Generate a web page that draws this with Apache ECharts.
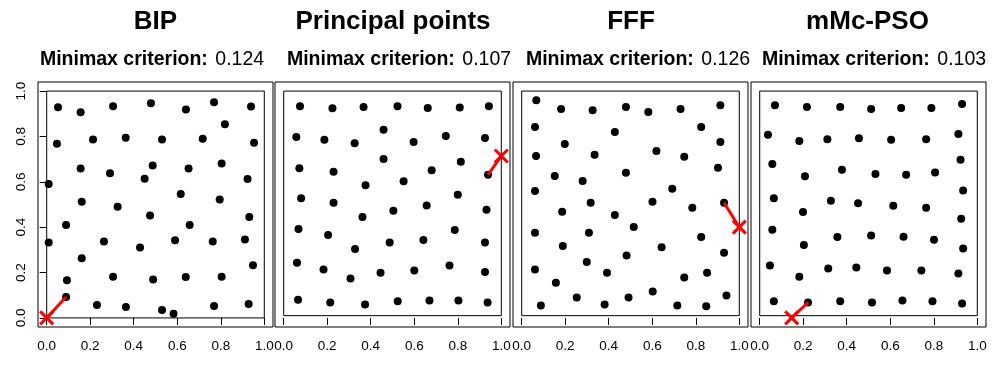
<!DOCTYPE html>
<html>
<head>
<meta charset="utf-8">
<script src="https://cdn.jsdelivr.net/npm/echarts@6/dist/echarts.min.js"></script>
<style>
html,body{margin:0;padding:0;background:#fff;}
#chart{width:1001px;height:367px;}
</style>
</head>
<body>
<div id="chart"></div>
<script>
// ---------- data ----------
const titles = ['BIP', 'Principal points', 'FFF', 'mMc-PSO'];
const criterionLabel = 'Minimax criterion:';
const criteria = ['0.124', '0.107', '0.126', '0.103'];
const tickValues = [0, 0.2, 0.4, 0.6, 0.8, 1.0];
const tickLabels = ['0.0', '0.2', '0.4', '0.6', '0.8', '1.0'];

const bipX = [0.052,0.156,0.305,0.479,0.640,0.769,0.939,0.819,0.047,0.213,0.363,0.530,0.717,0.953,0.156,0.291,0.487,0.450,0.652,0.804,0.009,0.923,0.161,0.326,0.616,0.795,0.475,0.931,0.089,0.657,0.009,0.263,0.429,0.590,0.763,0.911,0.161,0.948,0.093,0.305,0.489,0.639,0.804,0.089,0.231,0.364,0.530,0.583,0.769,0.928];
const bipY = [0.929,0.907,0.933,0.946,0.919,0.951,0.932,0.854,0.768,0.786,0.794,0.786,0.790,0.772,0.659,0.638,0.672,0.614,0.659,0.681,0.590,0.612,0.512,0.490,0.546,0.522,0.451,0.445,0.410,0.410,0.333,0.337,0.311,0.342,0.337,0.346,0.263,0.232,0.166,0.182,0.169,0.180,0.182,0.092,0.057,0.048,0.035,0.018,0.053,0.061];

const ppX = [0.075,0.224,0.367,0.523,0.662,0.809,0.943,0.058,0.187,0.326,0.459,0.597,0.745,0.925,0.072,0.229,0.376,0.459,0.551,0.680,0.814,0.939,0.080,0.229,0.800,0.657,0.504,0.932,0.362,0.068,0.204,0.328,0.487,0.642,0.786,0.925,0.061,0.183,0.307,0.445,0.600,0.762,0.925,0.066,0.214,0.374,0.524,0.670,0.803,0.937];
const ppY = [0.933,0.924,0.930,0.933,0.925,0.928,0.933,0.798,0.785,0.770,0.829,0.775,0.802,0.793,0.660,0.644,0.585,0.701,0.603,0.651,0.688,0.631,0.528,0.508,0.543,0.496,0.473,0.477,0.445,0.392,0.366,0.304,0.332,0.344,0.388,0.332,0.243,0.213,0.174,0.199,0.209,0.231,0.203,0.080,0.068,0.059,0.073,0.077,0.077,0.068];

const fffX = [0.067,0.181,0.326,0.479,0.582,0.730,0.913,0.061,0.428,0.825,0.198,0.913,0.066,0.335,0.619,0.747,0.902,0.152,0.280,0.479,0.061,0.692,0.317,0.601,0.784,0.930,0.186,0.428,0.515,0.061,0.309,0.825,0.189,0.643,0.482,0.930,0.299,0.061,0.392,0.852,0.747,0.157,0.253,0.602,0.941,0.088,0.381,0.491,0.715,0.848];
const fffY = [0.960,0.921,0.916,0.930,0.908,0.921,0.938,0.842,0.820,0.842,0.767,0.776,0.714,0.719,0.736,0.710,0.662,0.626,0.604,0.640,0.560,0.569,0.508,0.512,0.486,0.508,0.468,0.454,0.401,0.375,0.375,0.357,0.317,0.312,0.275,0.287,0.247,0.213,0.199,0.199,0.178,0.155,0.090,0.116,0.099,0.055,0.059,0.090,0.055,0.051];

const psoX = [0.070,0.217,0.370,0.512,0.650,0.789,0.930,0.038,0.182,0.311,0.456,0.604,0.765,0.913,0.058,0.208,0.378,0.532,0.673,0.806,0.923,0.935,0.065,0.327,0.452,0.614,0.765,0.199,0.926,0.058,0.357,0.512,0.661,0.801,0.203,0.935,0.047,0.315,0.444,0.585,0.743,0.913,0.182,0.065,0.222,0.370,0.516,0.656,0.794,0.930];
const psoY = [0.938,0.930,0.930,0.921,0.925,0.925,0.943,0.807,0.780,0.788,0.792,0.785,0.788,0.811,0.679,0.624,0.653,0.635,0.631,0.641,0.697,0.562,0.528,0.516,0.505,0.495,0.486,0.467,0.437,0.389,0.357,0.363,0.358,0.345,0.322,0.306,0.231,0.218,0.222,0.209,0.209,0.196,0.182,0.073,0.068,0.073,0.068,0.077,0.073,0.064];

// worst-covered location (red X) and its nearest design point
const worstPoint = [[0, 0], [1.0, 0.714], [1.0, 0.400], [0.147, 0]];
const nearestPoint = [[0.089, 0.092], [0.939, 0.631], [0.930, 0.508], [0.222, 0.068]];
// inner reference box [xmin, xmax, ymin, ymax]
const innerBox = [[0, 1, 0, 1], [0, 1, 0.01, 1], [0, 1, 0.01, 1], [0, 1, 0.01, 1]];

const pointsX = [bipX, ppX, fffX, psoX];
const pointsY = [bipY, ppY, fffY, psoY];

// ---------- layout ----------
const FONT = '"Liberation Sans", Arial, Helvetica, sans-serif';
const gridLefts = [38, 275, 513, 751];
const gridWidth = 235;
const gridTop = 82;
const gridHeight = 245;
const titleCenters = [155.5, 393, 631, 867.5];
const subCenters = [152, 399, 638, 874];

const grids = [], xAxes = [], yAxes = [], series = [], graphics = [];
const labelFmt = v => {
  const i = tickValues.findIndex(t => Math.abs(t - v) < 1e-9);
  return i >= 0 ? tickLabels[i] : '';
};

for (let k = 0; k < 4; k++) {
  grids.push({
    left: gridLefts[k], top: gridTop, width: gridWidth, height: gridHeight,
    show: true, borderColor: '#000', borderWidth: 1, backgroundColor: 'transparent', containLabel: false
  });
  xAxes.push({
    gridIndex: k, type: 'value', min: -0.04, max: 1.04,
    axisLine: { show: false },
    splitLine: { show: false },
    axisTick: { show: true, customValues: tickValues, length: 7, inside: false, lineStyle: { color: '#000', width: 1 } },
    axisLabel: { show: true, customValues: tickValues, formatter: labelFmt, fontSize: 13.5, fontFamily: FONT, color: '#000', margin: 12, hideOverlap: false }
  });
  yAxes.push({
    gridIndex: k, type: 'value', min: -0.04, max: 1.04,
    axisLine: { show: false },
    splitLine: { show: false },
    axisTick: { show: k === 0, customValues: tickValues, length: 7, inside: false, lineStyle: { color: '#000', width: 1 } },
    axisLabel: { show: k === 0, customValues: tickValues, formatter: labelFmt, fontSize: 13.5, fontFamily: FONT, color: '#000', margin: 10, rotate: 90 }
  });

  const b = innerBox[k];
  series.push({
    type: 'line', xAxisIndex: k, yAxisIndex: k, silent: true, symbol: 'none', animation: false,
    data: [[b[0], b[2]], [b[1], b[2]], [b[1], b[3]], [b[0], b[3]], [b[0], b[2]]],
    lineStyle: { color: '#000', width: 1 }, z: 1
  });
  series.push({
    type: 'scatter', xAxisIndex: k, yAxisIndex: k, silent: true, animation: false,
    symbol: 'circle', symbolSize: 8,
    data: pointsX[k].map((x, i) => [x, pointsY[k][i]]),
    itemStyle: { color: '#000', opacity: 1 }, z: 2
  });
  series.push({
    type: 'line', xAxisIndex: k, yAxisIndex: k, silent: true, symbol: 'none', animation: false,
    data: [worstPoint[k], nearestPoint[k]],
    lineStyle: { color: '#ff0000', width: 3 }, z: 3
  });
  series.push({
    type: 'custom', xAxisIndex: k, yAxisIndex: k, silent: true, animation: false, clip: false,
    data: [worstPoint[k]],
    renderItem: (params, api) => {
      const p = api.coord([api.value(0), api.value(1)]);
      const s = 6.5;
      return {
        type: 'group',
        children: [
          { type: 'line', shape: { x1: p[0] - s, y1: p[1] - s, x2: p[0] + s, y2: p[1] + s }, style: { stroke: '#ff0000', lineWidth: 3 } },
          { type: 'line', shape: { x1: p[0] - s, y1: p[1] + s, x2: p[0] + s, y2: p[1] - s }, style: { stroke: '#ff0000', lineWidth: 3 } }
        ]
      };
    },
    z: 4
  });

  graphics.push({
    type: 'text', x: titleCenters[k], y: 22,
    style: { text: titles[k], fontFamily: FONT, fontSize: 26, fontWeight: 'bold', fill: '#000', align: 'center', verticalAlign: 'middle' }
  });
  graphics.push({
    type: 'text', x: subCenters[k], y: 60,
    style: {
      text: '{b|' + criterionLabel + '} {n|' + criteria[k] + '}',
      fontFamily: FONT, fontSize: 19.5, fill: '#000', align: 'center', verticalAlign: 'middle',
      rich: {
        b: { fontFamily: FONT, fontSize: 19.5, fontWeight: 'bold', fill: '#000' },
        n: { fontFamily: FONT, fontSize: 19.5, fill: '#000', padding: [0, 0, 0, 2] }
      }
    }
  });
}

const chart = echarts.init(document.getElementById('chart'), null, { renderer: 'canvas' });
chart.setOption({
  animation: false,
  backgroundColor: '#fff',
  grid: grids,
  xAxis: xAxes,
  yAxis: yAxes,
  series: series,
  graphic: graphics
});
</script>
</body>
</html>
